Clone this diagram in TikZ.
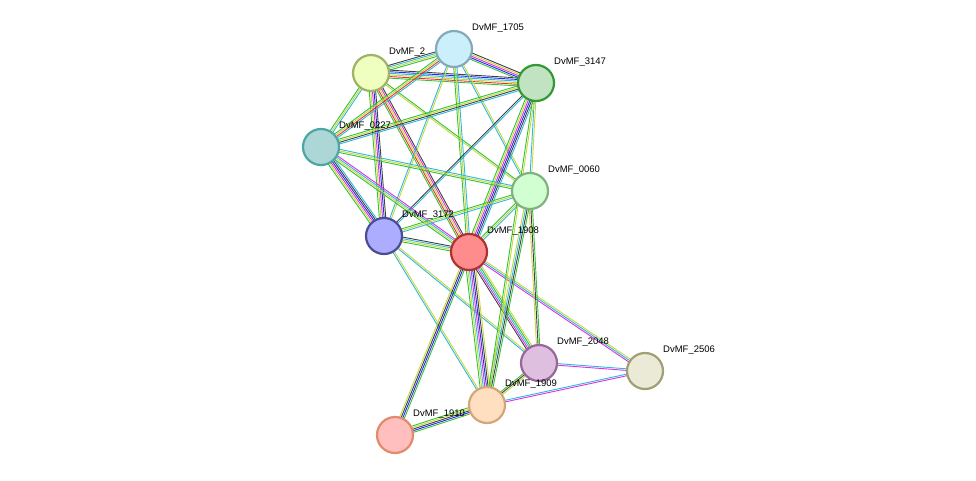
\documentclass[tikz,border=0pt]{standalone}
\usepackage{fontspec}
\setmainfont{Liberation Sans}
\usetikzlibrary{calc}
\definecolor{cG}{HTML}{33C233}
\definecolor{cR}{HTML}{F03030}
\definecolor{cB}{HTML}{2828F0}
\definecolor{cC}{HTML}{2CB8E0}
\definecolor{cM}{HTML}{E030E0}
\definecolor{cY}{HTML}{C4D83C}
\definecolor{cK}{HTML}{404040}
\newcommand{\stredge}[3]{%
  \def\lst{#3}%
  \foreach \c [count=\i] in \lst {\global\let\nn\i}%
  \foreach \c [count=\i] in \lst {%
    \pgfmathsetmacro{\k}{(\i-(\nn+1)/2)*1.6}%
    \draw[\c,line width=0.9pt] ($(#1)!\k pt!90:(#2)$) -- ($(#2)!\k pt!-90:(#1)$);
  }}
\tikzset{nd/.style={circle,minimum size=36pt,inner sep=0pt,line width=2.2pt},
 lb/.style={font=\fontsize{9.5pt}{10pt}\selectfont,anchor=west,inner sep=0pt}}
\begin{document}
\begin{tikzpicture}[x=1pt,y=-1pt]
\useasboundingbox (0,0) rectangle (976,481);
\coordinate (n2) at (371,73);
\coordinate (n1705) at (454,49);
\coordinate (n3147) at (536,83);
\coordinate (n0227) at (321,147);
\coordinate (n0060) at (530,191);
\coordinate (n3172) at (384,236);
\coordinate (n1908) at (469,252);
\coordinate (n2048) at (539,363);
\coordinate (n2506) at (645,371);
\coordinate (n1909) at (487,405);
\coordinate (n1910) at (395,435);
\stredge{n2}{n1705}{cG,cY,cC,cK}
\stredge{n2}{n3147}{cG,cR,cY,cC,cB,cK}
\stredge{n2}{n0227}{cG,cY,cC}
\stredge{n2}{n0060}{cY,cG}
\stredge{n2}{n3172}{cG,cY,cM,cB,cK}
\stredge{n2}{n1908}{cG,cR,cY,cM,cK}
\stredge{n1705}{n3147}{cG,cB,cM,cY,cK}
\stredge{n1705}{n0227}{cG,cY,cR,cC}
\stredge{n1705}{n0060}{cC,cY}
\stredge{n1705}{n3172}{cC,cY}
\stredge{n1705}{n1908}{cG,cY,cC}
\stredge{n3147}{n0227}{cG,cY,cK,cC}
\stredge{n3147}{n0060}{cC,cY}
\stredge{n3147}{n3172}{cK,cC}
\stredge{n3147}{n1908}{cG,cY,cM,cB,cK,cC}
\stredge{n0227}{n0060}{cG,cY,cC}
\stredge{n0227}{n3172}{cG,cY,cM,cB,cK,cC}
\stredge{n0227}{n1908}{cG,cY,cC,cM}
\stredge{n0060}{n3172}{cG,cY,cC}
\stredge{n0060}{n1908}{cG,cY,cC}
\stredge{n3172}{n1908}{cG,cY,cC,cK}
\stredge{n3172}{n2048}{cC,cY}
\stredge{n3172}{n1909}{cC,cY}
\stredge{n1908}{n1910}{cY,cK,cB,cG}
\stredge{n1908}{n1909}{cG,cY,cC,cM,cB,cK,cY}
\stredge{n1908}{n2048}{cK,cM,cC,cG,cY}
\stredge{n1908}{n2506}{cM,cC,cY}
\stredge{n0060}{n1909}{cY,cC,cK,cG}
\stredge{n0060}{n2048}{cY,cK,cG}
\stredge{n3147}{n1909}{cG,cY}
\stredge{n2048}{n2506}{cM,cC}
\stredge{n1909}{n2506}{cM,cC}
\stredge{n2048}{n1909}{cG,cK,cY}
\stredge{n1909}{n1910}{cG,cY,cK,cB,cG}
\node[nd,draw=lime!50!black!60,fill=lime!25] (a2) at (n2) {};
\node[lb] at (389,52) {DvMF\_2};
\node[nd,draw=cyan!50!black!60,fill=cyan!20] (a1705) at (n1705) {};
\node[lb] at (472,28) {DvMF\_1705};
\node[nd,draw=green!50!black!80,fill=green!55!black!30!white!80] (a3147) at (n3147) {};
\node[lb] at (554,62) {DvMF\_3147};
\node[nd,draw=teal!70,fill=teal!40!white!80] (a0227) at (n0227) {};
\node[lb] at (339,126) {DvMF\_0227};
\node[nd,draw=green!40!black!50,fill=green!20!white!90] (a0060) at (n0060) {};
\node[lb] at (548,170) {DvMF\_0060};
\node[nd,draw=blue!40!black!70,fill=blue!40!white!80] (a3172) at (n3172) {};
\node[lb] at (402,215) {DvMF\_3172};
\node[nd,draw=red!60!black!80,fill=red!45] (a1908) at (n1908) {};
\node[lb] at (487,231) {DvMF\_1908};
\node[nd,draw=violet!50!white!80!black,fill=violet!25] (a2048) at (n2048) {};
\node[lb] at (557,342) {DvMF\_2048};
\node[nd,draw=yellow!40!black!70,fill=yellow!50!black!20!white!90] (a2506) at (n2506) {};
\node[lb] at (663,350) {DvMF\_2506};
\node[nd,draw=brown!70,fill=orange!25] (a1909) at (n1909) {};
\node[lb] at (505,384) {DvMF\_1909};
\node[nd,draw=red!30!brown!70,fill=red!25] (a1910) at (n1910) {};
\node[lb] at (413,414) {DvMF\_1910};
\end{tikzpicture}
\end{document}
